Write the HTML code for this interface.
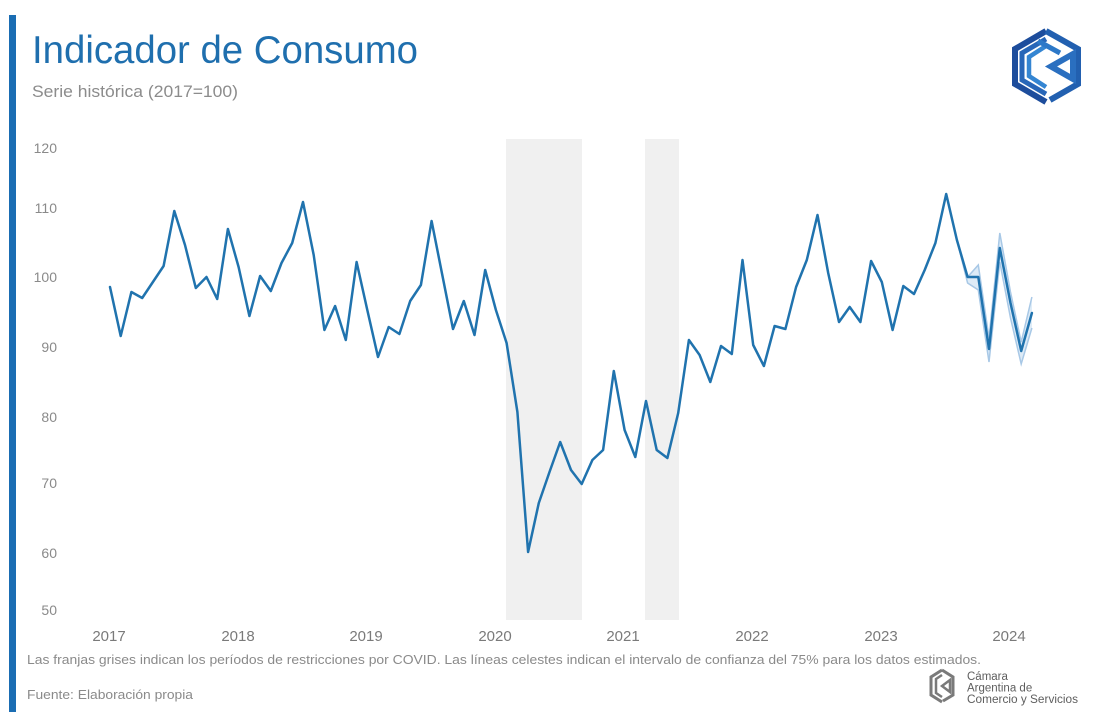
<!DOCTYPE html>
<html>
<head>
<meta charset="utf-8">
<style>
html,body{margin:0;padding:0;background:#fff;}
svg{display:block;}
text{font-family:"Liberation Sans",Arial,sans-serif;}
</style>
</head>
<body>
<svg width="1120" height="720" viewBox="0 0 1120 720" xmlns="http://www.w3.org/2000/svg">
<rect x="0" y="0" width="1120" height="720" fill="#ffffff"/>
<!-- left accent bar -->
<rect x="9" y="15" width="7" height="697" fill="#1a6db3"/>

<!-- title -->
<text x="32" y="63" font-size="38.5" fill="#1f6fae" textLength="386" lengthAdjust="spacingAndGlyphs">Indicador de Consumo</text>
<text x="32" y="97" font-size="17" fill="#8c8c8c" textLength="206" lengthAdjust="spacingAndGlyphs">Serie histórica (2017=100)</text>

<!-- top-right logo -->
<g fill="none" stroke-linejoin="miter">
  <polyline points="1046,31 1015,49 1015,84 1046,102" stroke="#1d4d9c" stroke-width="6"/>
  <polyline points="1046,39 1022,53 1022,80 1046,94" stroke="#2766b8" stroke-width="5"/>
  <polyline points="1046,46 1029,57 1029,76 1046,87" stroke="#3485d2" stroke-width="4.5"/>
  <polyline points="1046,31 1078,49 1078,84 1050,100" stroke="#2260b0" stroke-width="6"/>
  <polyline points="1038,41 1060,53" stroke="#2c78c8" stroke-width="5"/>
  <polygon points="1073,54 1073,79 1051,66.5" stroke="#2a6fc0" stroke-width="6"/>
</g>

<!-- COVID bands -->
<rect x="506" y="139" width="76" height="481" fill="#f0f0f0"/>
<rect x="645" y="139" width="34" height="481" fill="#f0f0f0"/>

<!-- y axis labels -->
<g font-size="14" fill="#8a8a8a" text-anchor="end">
  <text x="57" y="153">120</text>
  <text x="57" y="213">110</text>
  <text x="57" y="282">100</text>
  <text x="57" y="352">90</text>
  <text x="57" y="422">80</text>
  <text x="57" y="488">70</text>
  <text x="57" y="558">60</text>
  <text x="57" y="615">50</text>
</g>

<!-- x axis labels -->
<g font-size="15" fill="#7a7a7a" text-anchor="middle">
  <text x="109" y="641">2017</text>
  <text x="238" y="641">2018</text>
  <text x="366" y="641">2019</text>
  <text x="495" y="641">2020</text>
  <text x="623" y="641">2021</text>
  <text x="752" y="641">2022</text>
  <text x="881" y="641">2023</text>
  <text x="1009" y="641">2024</text>
</g>

<!-- confidence interval -->
<polygon points="956.9,240 967.6,277 978.3,265 989,338 999.8,233 1010.5,292 1021.2,342 1031.9,297 1031.9,328 1021.2,364 1010.5,318 999.8,262 989,362 978.3,290 967.6,283" fill="#cfe2f3" fill-opacity="0.7"/>
<polyline points="956.9,240 967.6,277 978.3,265 989,338 999.8,233 1010.5,292 1021.2,342 1031.9,297" fill="none" stroke="#a8c8e6" stroke-width="1.5"/>
<polyline points="956.9,240 967.6,283 978.3,290 989,362 999.8,262 1010.5,318 1021.2,364 1031.9,328" fill="none" stroke="#a8c8e6" stroke-width="1.5"/>

<!-- main series -->
<polyline fill="none" stroke="#2073ae" stroke-width="2.5" stroke-linejoin="round" stroke-linecap="round" points="
110,287 120.7,336 131.4,292 142.2,298 152.9,282 163.6,266 174.3,211 185,245 195.8,288 206.5,277 217.2,299 227.9,229
238.6,267 249.4,316 260.1,276 270.8,291 281.5,263 292.2,243 303,202 313.7,255 324.4,330 335.1,306 345.8,340 356.6,262
367.3,310 378,357 388.7,327 399.4,334 410.2,301 420.9,285 431.6,221 442.3,275 453,329 463.8,301 474.5,335 485.2,270
495.9,310 506.6,343 517.4,412 528.1,552 538.8,503 549.5,472 560.2,442 571,470 581.7,484 592.4,460 603.1,450 613.8,371
624.6,430 635.3,457 646,401 656.7,450 667.4,458 678.2,413 688.9,340 699.6,355 710.3,382 721,346 731.8,354 742.5,260
753.2,345 763.9,366 774.6,326 785.4,329 796.1,287 806.8,260 817.5,215 828.2,273 839,322 849.7,307 860.4,322 871.1,261
881.8,282 892.6,330 903.3,286 914,294 924.7,270 935.4,243 946.2,194 956.9,240 967.6,277 978.3,277 989,349 999.8,248
1010.5,303 1021.2,351 1031.9,313"/>

<!-- footnotes -->
<text x="27" y="664" font-size="13" fill="#8a8a8a" textLength="954" lengthAdjust="spacingAndGlyphs">Las franjas grises indican los períodos de restricciones por COVID. Las líneas celestes indican el intervalo de confianza del 75% para los datos estimados.</text>
<text x="27" y="699" font-size="13" fill="#8a8a8a" textLength="166" lengthAdjust="spacingAndGlyphs">Fuente: Elaboración propia</text>

<!-- bottom logo -->
<g fill="none" stroke="#7a7a7a">
  <polyline points="942,670 931,677 931,695 942,702" stroke-width="3"/>
  <polyline points="942,675 936,679 936,693 942,697" stroke-width="2.5"/>
  <polyline points="942,670 953,677 953,695 943,701" stroke-width="3"/>
  <polygon points="950,680 950,692 942,686" stroke-width="2.5"/>
</g>
<g font-size="11.5" fill="#5e5e5e">
  <text x="967" y="680">Cámara</text>
  <text x="967" y="691.5">Argentina de</text>
  <text x="967" y="703" textLength="111" lengthAdjust="spacingAndGlyphs">Comercio y Servicios</text>
</g>
</svg>
</body>
</html>
